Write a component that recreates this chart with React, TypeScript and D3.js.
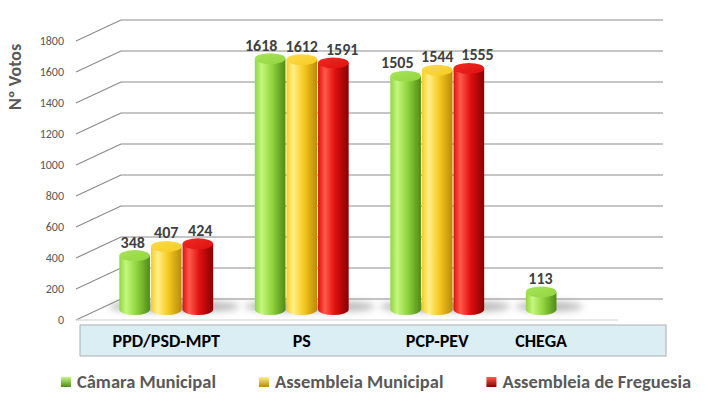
import React, { useRef, useEffect } from "react";
import * as d3 from "d3";

const categories = ["PPD/PSD-MPT", "PS", "PCP-PEV", "CHEGA"];
const seriesNames = ["Câmara Municipal", "Assembleia Municipal", "Assembleia de Freguesia"];
const camara = [348, 1618, 1505, 113];
const assembleiaMunicipal = [407, 1612, 1544, null];
const assembleiaFreguesia = [424, 1591, 1555, null];
const yTicks = [0, 200, 400, 600, 800, 1000, 1200, 1400, 1600, 1800];

const seriesValues = [camara, assembleiaMunicipal, assembleiaFreguesia];
// light, base, dark, top
const palette = [
  ["#c4f77f", "#92d63e", "#4f8b17", "#a8e35c"],
  ["#fff08a", "#f7cb22", "#b98a07", "#fbdc4c"],
  ["#ff5a4a", "#e01010", "#8a0000", "#ee2a22"],
];

const FONT = "Calibri, Carlito, Lato, 'Open Sans', sans-serif";

const App: React.FC = () => {
  const ref = useRef<SVGSVGElement | null>(null);

  useEffect(() => {
    const svg = d3.select(ref.current);
    svg.selectAll("*").remove();

    const width = 705;
    const height = 402;
    const depth = { dx: 45, dy: -21 };

    // front plane scales
    const x = d3.scaleBand().domain(categories).range([76, 618]);
    const y = d3.scaleLinear().domain([0, 1800]).range([320, 41]);
    const groupW = x.bandwidth() * 0.7;
    const xs = d3
      .scaleBand()
      .domain(seriesNames)
      .range([-groupW / 2, groupW / 2]);

    const defs = svg.append("defs");
    palette.forEach((p, i) => {
      const g = defs
        .append("linearGradient")
        .attr("id", `body${i}`)
        .attr("x1", 0)
        .attr("x2", 1)
        .attr("y1", 0)
        .attr("y2", 0);
      g.append("stop").attr("offset", 0).attr("stop-color", p[1]);
      g.append("stop").attr("offset", 0.22).attr("stop-color", p[0]);
      g.append("stop").attr("offset", 0.55).attr("stop-color", p[1]);
      g.append("stop").attr("offset", 1).attr("stop-color", p[2]);

      const t = defs
        .append("linearGradient")
        .attr("id", `top${i}`)
        .attr("x1", 0)
        .attr("x2", 1)
        .attr("y1", 0)
        .attr("y2", 1);
      t.append("stop").attr("offset", 0).attr("stop-color", p[3]);
      t.append("stop").attr("offset", 1).attr("stop-color", p[1]);

      const m = defs
        .append("linearGradient")
        .attr("id", `mark${i}`)
        .attr("x1", 0)
        .attr("x2", 0)
        .attr("y1", 0)
        .attr("y2", 1);
      m.append("stop").attr("offset", 0).attr("stop-color", p[0]);
      m.append("stop").attr("offset", 1).attr("stop-color", p[2]);
    });
    defs
      .append("filter")
      .attr("id", "blur")
      .attr("x", "-50%")
      .attr("y", "-100%")
      .attr("width", "200%")
      .attr("height", "300%")
      .append("feGaussianBlur")
      .attr("stdDeviation", 3.5);

    svg.attr("width", width).attr("height", height);

    // back wall gridlines + side wall diagonals
    const grid = svg.append("g").attr("stroke", "#8c8c8c").attr("stroke-width", 1.2);
    yTicks.forEach((t) => {
      grid
        .append("line")
        .attr("x1", x.range()[0] + depth.dx)
        .attr("x2", x.range()[1] + depth.dx)
        .attr("y1", y(t) + depth.dy)
        .attr("y2", y(t) + depth.dy);
      grid
        .append("line")
        .attr("x1", x.range()[0])
        .attr("x2", x.range()[0] + depth.dx)
        .attr("y1", y(t))
        .attr("y2", y(t) + depth.dy);
    });
    // floor front edge
    svg
      .append("line")
      .attr("x1", x.range()[0])
      .attr("x2", x.range()[1])
      .attr("y1", y(0))
      .attr("y2", y(0))
      .attr("stroke", "#d0d0d0")
      .attr("stroke-width", 1);

    // y tick labels
    svg
      .append("g")
      .selectAll("text")
      .data(yTicks)
      .join("text")
      .attr("x", 64)
      .attr("y", (d) => y(d))
      .attr("dy", "0.35em")
      .attr("text-anchor", "end")
      .attr("font-family", FONT)
      .attr("font-size", 12)
      .attr("fill", "#595959")
      .text((d) => d);

    // y axis title
    svg
      .append("text")
      .attr("transform", "translate(15,77) rotate(-90)")
      .attr("text-anchor", "middle")
      .attr("dy", "0.35em")
      .attr("font-family", FONT)
      .attr("font-size", 18)
      .attr("font-weight", "bold")
      .attr("fill", "#595959")
      .text("Nº Votos");

    type Bar = { cat: string; s: string; si: number; v: number };
    const bars: Bar[] = [];
    categories.forEach((cat, ci) => {
      seriesNames.forEach((s, si) => {
        const v = seriesValues[si][ci];
        if (v != null) bars.push({ cat, s, si, v });
      });
    });

    const rx = xs.bandwidth() / 2 - 0.5;
    const ry = 5.5;
    const cxOf = (b: Bar) =>
      (x(b.cat) as number) + x.bandwidth() / 2 + (xs(b.s) as number) + xs.bandwidth() / 2 + depth.dx / 2;
    const yMid = (v: number) => y(v) + depth.dy / 2;
    // perspective spread of labels on tall bars
    const spread = d3.scaleLinear().domain([0, 1800]).range([0, 10]);

    // floor shadows
    svg
      .append("g")
      .attr("filter", "url(#blur)")
      .selectAll("ellipse")
      .data(bars)
      .join("ellipse")
      .attr("cx", (b) => cxOf(b) + 8)
      .attr("cy", yMid(0) - 3)
      .attr("rx", rx + 18)
      .attr("ry", 5)
      .attr("fill", "#7f7f7f")
      .attr("opacity", 0.55);

    // cylinders
    const cyl = svg.append("g").selectAll("g").data(bars).join("g");
    cyl
      .append("path")
      .attr("d", (b) => {
        const cx = cxOf(b);
        const top = yMid(b.v);
        const bot = yMid(0);
        return `M${cx - rx},${top}L${cx - rx},${bot}A${rx},${ry} 0 0 0 ${cx + rx},${bot}L${cx + rx},${top}Z`;
      })
      .attr("fill", (b) => `url(#body${b.si})`);
    cyl
      .append("ellipse")
      .attr("cx", (b) => cxOf(b))
      .attr("cy", (b) => yMid(b.v))
      .attr("rx", rx)
      .attr("ry", ry)
      .attr("fill", (b) => `url(#top${b.si})`);

    // value labels
    svg
      .append("g")
      .selectAll("text")
      .data(bars)
      .join("text")
      .attr("x", (b) => cxOf(b) + (b.si - 1) * spread(b.v))
      .attr("y", (b) => yMid(b.v) - 8)
      .attr("text-anchor", "middle")
      .attr("font-family", FONT)
      .attr("font-size", 16)
      .attr("font-weight", "bold")
      .attr("fill", "#404040")
      .text((b) => b.v);

    // category label box
    svg
      .append("rect")
      .attr("x", 80)
      .attr("y", 325)
      .attr("width", 586)
      .attr("height", 31)
      .attr("fill", "#daeef3")
      .attr("stroke", "#b0b0b0");

    svg
      .append("g")
      .selectAll("text")
      .data(categories)
      .join("text")
      .attr("x", (cat) => {
        const own = bars.filter((b) => b.cat === cat);
        return d3.mean(own, cxOf) as number;
      })
      .attr("y", 341)
      .attr("dy", "0.35em")
      .attr("text-anchor", "middle")
      .attr("font-family", FONT)
      .attr("font-size", 18)
      .attr("font-weight", "bold")
      .attr("fill", "#000")
      .text((d) => d);

    // legend
    const legend = svg.append("g");
    const items = legend
      .selectAll("g")
      .data(seriesNames)
      .join("g");
    items
      .append("rect")
      .attr("y", 377)
      .attr("width", 10)
      .attr("height", 10)
      .attr("fill", (_, i) => `url(#mark${i})`);
    const labels = items
      .append("text")
      .attr("x", 16)
      .attr("y", 382)
      .attr("dy", "0.35em")
      .attr("font-family", FONT)
      .attr("font-size", 18.5)
      .attr("font-weight", "bold")
      .attr("fill", "#595959")
      .text((d) => d);
    const widths = labels.nodes().map((n) => 16 + (n as SVGTextElement).getComputedTextLength());
    const gap = 43;
    const total = d3.sum(widths) + gap * (widths.length - 1);
    let cursor = 376 - total / 2;
    items.attr("transform", (_, i) => {
      const t = `translate(${cursor},0)`;
      cursor += widths[i] + gap;
      return t;
    });
  }, []);

  return (
    <div style={{ position: "absolute", left: 0, top: 0 }}>
      <svg ref={ref} style={{ display: "block" }} />
    </div>
  );
};

export default App;
